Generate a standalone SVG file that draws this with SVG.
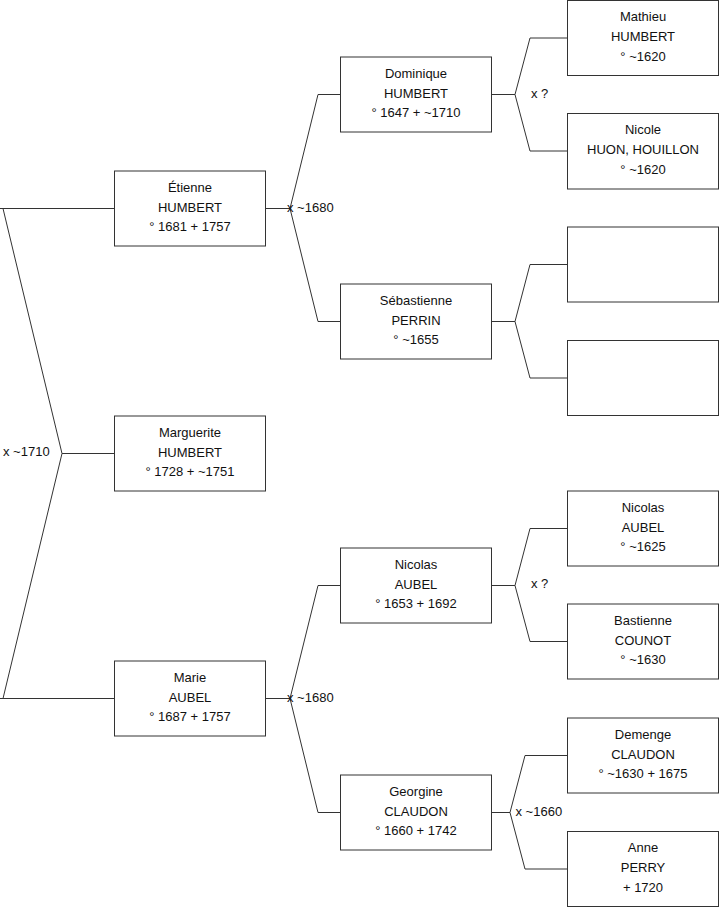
<svg xmlns="http://www.w3.org/2000/svg" width="719" height="908" viewBox="0 0 719 908">
<style>
.box{fill:#fff;stroke:#333;stroke-width:1}
.t{font-family:"Liberation Sans",Arial,sans-serif;font-size:13px;fill:#111;text-anchor:middle}
.l{font-family:"Liberation Sans",Arial,sans-serif;font-size:13px;fill:#111}
.c{fill:none;stroke:#333;stroke-width:1}
</style>
<rect width="719" height="908" fill="#fff"/>
<g id="connectors">
<path class="c" d="M0,208.5H114M3,208.5L62,453.5L3,698.5M62,453.5H114M0,698.5H114"/>
<path class="c" d="M265,208.5H290M318,94.5L290,208.5L318,321.5M318,94.5H340M318,321.5H340"/>
<path class="c" d="M265,698.5H290M318,585.5L290,698.5L318,812.5M318,585.5H340M318,812.5H340"/>
<path class="c" d="M491,94.5H515M530,38L515,94.5L530,151M530,38H567M530,151H567"/>
<path class="c" d="M491,321.5H515M530,264.5L515,321.5L530,378M530,264.5H567M530,378H567"/>
<path class="c" d="M491,585.5H515M530,528.5L515,585.5L530,641.5M530,528.5H567M530,641.5H567"/>
<path class="c" d="M491,812.5H510M525,755.5L510,812.5L525,869M525,755.5H567M525,869H567"/>
<text class="l" x="3" y="456">x ~1710</text>
<text class="l" x="287" y="211.5">x ~1680</text>
<text class="l" x="287" y="701.5">x ~1680</text>
<text class="l" x="531" y="97.5">x ?</text>
<text class="l" x="531" y="588">x ?</text>
<text class="l" x="515.5" y="815.5">x ~1660</text>
</g>
<g id="etienne"><rect class="box" x="114.5" y="171" width="151" height="75"/>
<text class="t" x="190" y="191.5">Étienne</text><text class="t" x="190" y="211.5">HUMBERT</text><text class="t" x="190" y="231">° 1681 + 1757</text></g>
<g id="marguerite"><rect class="box" x="114.5" y="416" width="151" height="75"/>
<text class="t" x="190" y="436.5">Marguerite</text><text class="t" x="190" y="456.5">HUMBERT</text><text class="t" x="190" y="476">° 1728 + ~1751</text></g>
<g id="marie"><rect class="box" x="114.5" y="661" width="151" height="75"/>
<text class="t" x="190" y="681.5">Marie</text><text class="t" x="190" y="701.5">AUBEL</text><text class="t" x="190" y="721">° 1687 + 1757</text></g>
<g id="dominique"><rect class="box" x="340.5" y="57" width="151" height="75"/>
<text class="t" x="416" y="77.5">Dominique</text><text class="t" x="416" y="97.5">HUMBERT</text><text class="t" x="416" y="117">° 1647 + ~1710</text></g>
<g id="sebastienne"><rect class="box" x="340.5" y="284" width="151" height="75"/>
<text class="t" x="416" y="304.5">Sébastienne</text><text class="t" x="416" y="324.5">PERRIN</text><text class="t" x="416" y="344">° ~1655</text></g>
<g id="nicolas"><rect class="box" x="340.5" y="548" width="151" height="75"/>
<text class="t" x="416" y="568.5">Nicolas</text><text class="t" x="416" y="588.5">AUBEL</text><text class="t" x="416" y="608">° 1653 + 1692</text></g>
<g id="georgine"><rect class="box" x="340.5" y="775" width="151" height="75"/>
<text class="t" x="416" y="795.5">Georgine</text><text class="t" x="416" y="815.5">CLAUDON</text><text class="t" x="416" y="835">° 1660 + 1742</text></g>
<g id="mathieu"><rect class="box" x="567.5" y="0.5" width="151" height="75"/>
<text class="t" x="643" y="21">Mathieu</text><text class="t" x="643" y="41">HUMBERT</text><text class="t" x="643" y="60.5">° ~1620</text></g>
<g id="nicole"><rect class="box" x="567.5" y="113.5" width="151" height="75.5"/>
<text class="t" x="643" y="134">Nicole</text><text class="t" x="643" y="154">HUON, HOUILLON</text><text class="t" x="643" y="173.5">° ~1620</text></g>
<g id="unknown1"><rect class="box" x="567.5" y="227" width="151" height="75"/></g>
<g id="unknown2"><rect class="box" x="567.5" y="340.5" width="151" height="75"/></g>
<g id="nicolas-aubel"><rect class="box" x="567.5" y="491" width="151" height="75"/>
<text class="t" x="643" y="511.5">Nicolas</text><text class="t" x="643" y="531.5">AUBEL</text><text class="t" x="643" y="551">° ~1625</text></g>
<g id="bastienne"><rect class="box" x="567.5" y="604" width="151" height="75"/>
<text class="t" x="643" y="624.5">Bastienne</text><text class="t" x="643" y="644.5">COUNOT</text><text class="t" x="643" y="664">° ~1630</text></g>
<g id="demenge"><rect class="box" x="567.5" y="718" width="151" height="75"/>
<text class="t" x="643" y="738.5">Demenge</text><text class="t" x="643" y="758.5">CLAUDON</text><text class="t" x="643" y="778">° ~1630 + 1675</text></g>
<g id="anne"><rect class="box" x="567.5" y="831.5" width="151" height="75"/>
<text class="t" x="643" y="852">Anne</text><text class="t" x="643" y="872">PERRY</text><text class="t" x="643" y="891.5">+ 1720</text></g>
</svg>
